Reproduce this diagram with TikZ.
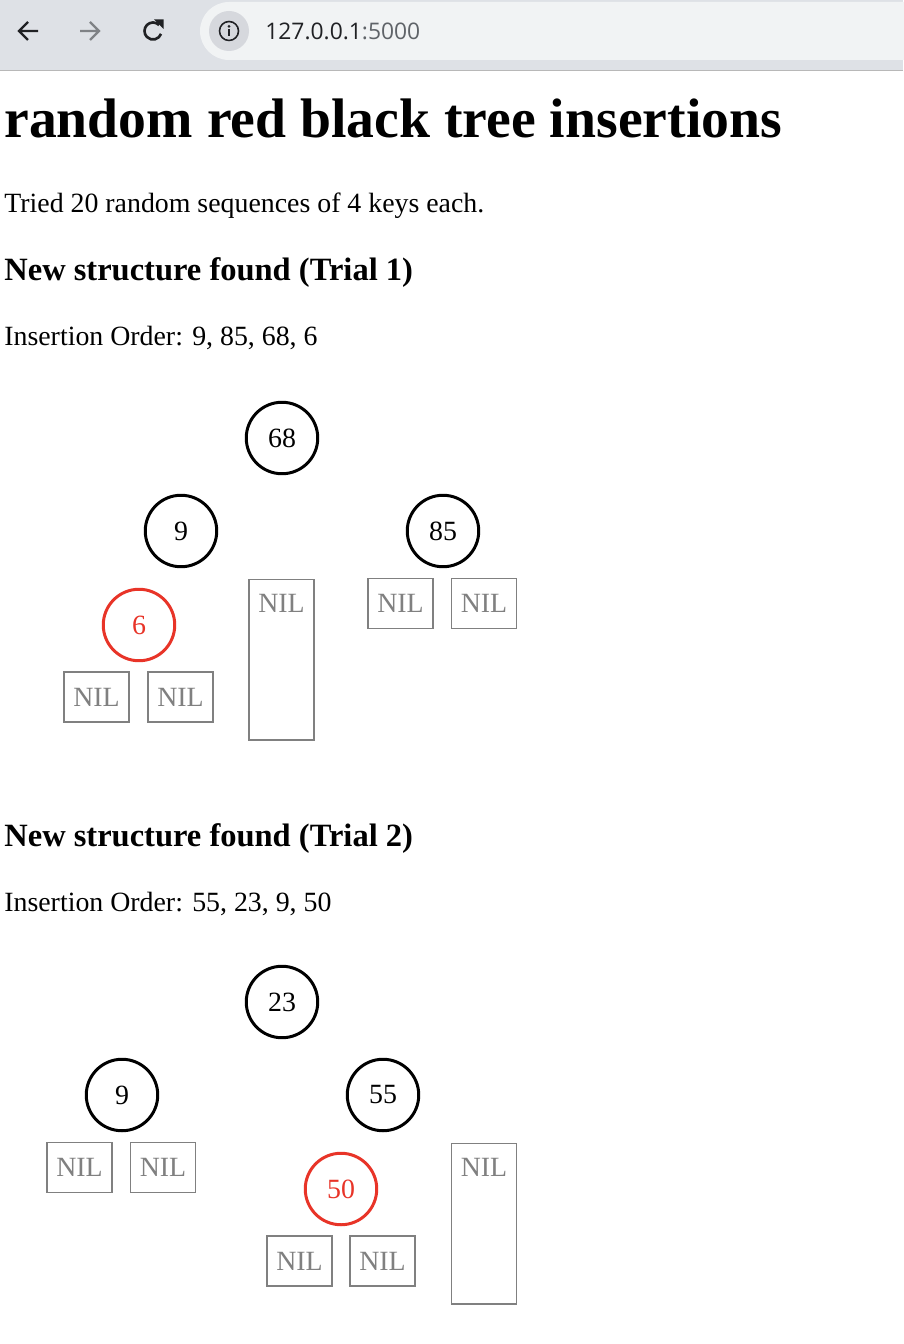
\documentclass[tikz,border=0pt]{standalone}
\usepackage{fontspec}
\setmainfont{Liberation Serif}
\newfontfamily\uifont{Open Sans}
\usetikzlibrary{arrows.meta}
\definecolor{barG}{RGB}{222,225,230}
\definecolor{pillG}{RGB}{241,243,244}
\definecolor{iconG}{RGB}{214,216,221}
\definecolor{urlD}{RGB}{32,33,36}
\definecolor{urlL}{RGB}{95,99,104}
\definecolor{nodeR}{RGB}{232,52,40}
\definecolor{nilG}{RGB}{128,128,128}
\newcommand{\bodysize}{\fontsize{15.85}{19}\selectfont}

\begin{document}
\begin{tikzpicture}[x=0.02cm,y=-0.02cm,
  rb/.style={circle,draw,line width=1.7pt,minimum size=1.43cm,inner sep=0pt,font=\bodysize},
  rbred/.style={rb,draw=nodeR,text=nodeR},
  nil/.style={draw=nilG,line width=0.6pt,minimum width=1.3cm,minimum height=1cm,inner sep=0pt,text=nilG,font=\bodysize},
  tallnil/.style={nil,minimum height=3.22cm,anchor=north},
  niltext/.style={inner sep=0pt,text=nilG,font=\bodysize},
  para/.style={anchor=base west,inner sep=0pt,font=\bodysize},
  hthree/.style={para,font=\fontsize{18.5}{22}\selectfont\bfseries},
  hone/.style={para,font=\fontsize{31.7}{38}\selectfont\bfseries}]
\useasboundingbox (0,0) rectangle (903,1344);
\fill[white] (0,0) rectangle (903,1344);
% browser bar
\fill[barG] (0,0) rectangle (903,70);
\draw[black!28,line width=0.6pt] (0,70.5)--(903,70.5);
\fill[pillG,rounded corners=0.58cm] (200,2) rectangle (960,60);
\fill[iconG] (229,31) circle (0.4cm);
\draw[urlD,line width=0.9pt] (229,31) circle (0.19cm);
\fill[urlD] (229,26.5) circle (0.03cm);
\draw[urlD,line width=1pt] (229,29.5)--(229,36.5);
\draw[urlD,line width=1.4pt] (38,31)--(19,31) (28,22)--(19,31)--(28,40);
\draw[urlL!80,line width=1.4pt] (80,31)--(99,31) (90,22)--(99,31)--(90,40);
\begin{scope}[shift={(153,31)},yscale=-1]
\draw[urlD,line width=1.5pt] (45:8.5) arc (45:340:8.5);
\fill[urlD] (10.5,11.5)--(10.5,2)--(1,11.5)--cycle;
\end{scope}
\node[anchor=base west,inner sep=0pt,font=\uifont\fontsize{13}{16}\selectfont] (url) at (265,40) {\textcolor{urlD}{127.0.0.1}\textcolor{urlL}{:5000}};
% page text
\node[hone] (title) at (4,138) {random red black tree insertions};
\node[para] (intro) at (4,213) {Tried 20 random sequences of 4 keys each.};
\node[hthree] (headA) at (4,281) {New structure found (Trial 1)};
\node[para] (orderA) at (4,346) {Insertion Order: 9, 85, 68, 6};
\node[hthree] (headB) at (4,846) {New structure found (Trial 2)};
\node[para] (orderB) at (4,911) {Insertion Order: 55, 23, 9, 50};
% trial 1
\node[rb] (a68) at (282,438) {68};
\node[rb] (a9) at (181,531) {9};
\node[rb] (a85) at (443,531) {85};
\node[rbred] (a6) at (139,625) {6};
\node[nil] (a6l) at (96.5,697) {NIL};
\node[nil] (a6r) at (180.5,697) {NIL};
\node[tallnil] (a9r) at (281.5,578.5) {};
\node[niltext] (a9rt) at (281.5,603.5) {NIL};
\node[nil] (a85l) at (400.5,603.5) {NIL};
\node[nil] (a85r) at (484,603.5) {NIL};
% trial 2
\node[rb] (b23) at (282,1002) {23};
\node[rb] (b9) at (122,1095) {9};
\node[rb] (b55) at (383,1095) {55};
\node[rbred] (b50) at (341,1189) {50};
\node[nil] (b9l) at (79.5,1167.5) {NIL};
\node[nil] (b9r) at (163,1167.5) {NIL};
\node[nil] (b50l) at (299.5,1261) {NIL};
\node[nil] (b50r) at (382.5,1261) {NIL};
\node[tallnil] (b55r) at (484,1142.5) {};
\node[niltext] (b55rt) at (484,1167.5) {NIL};
\end{tikzpicture}
\end{document}
